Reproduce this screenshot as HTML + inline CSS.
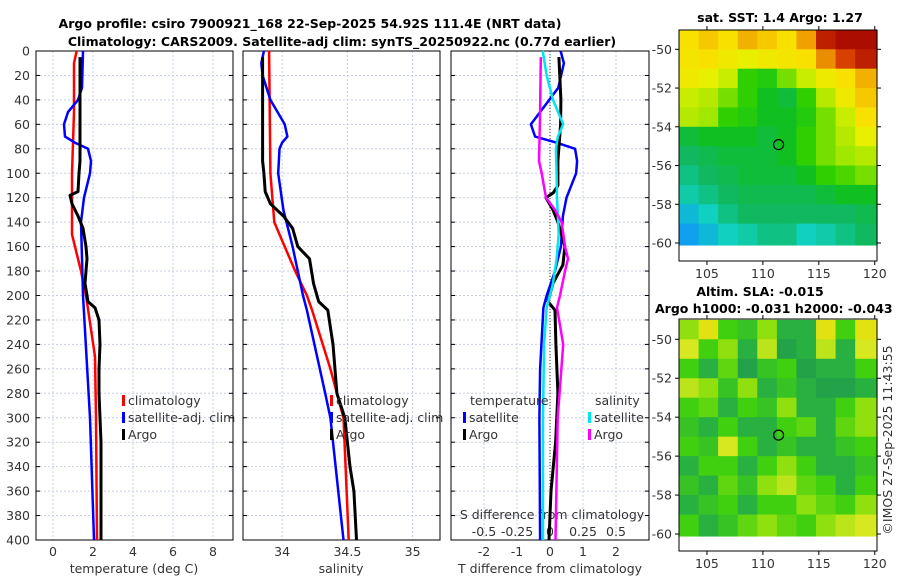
<!DOCTYPE html>
<html><head><meta charset="utf-8"><style>
html,body{margin:0;padding:0;background:#fff;width:900px;height:580px;overflow:hidden}
svg{display:block;font-family:"DejaVu Sans","Liberation Sans",sans-serif}
.tl{font-size:12.5px;fill:#333}
.tt{font-size:12.5px;font-weight:bold;fill:#000}
</style></head><body>
<svg id="fig" width="900" height="580" viewBox="0 0 900 580">
<text class="tt" x="310" y="28" text-anchor="middle">Argo profile: csiro 7900921_168 22-Sep-2025 54.92S 111.4E (NRT data)</text>
<text class="tt" x="342" y="46" text-anchor="middle">Climatology: CARS2009. Satellite-adj clim: synTS_20250922.nc (0.77d earlier)</text>
<text class="tt" x="780" y="22" text-anchor="middle">sat. SST: 1.4 Argo: 1.27</text>
<text class="tt" x="760" y="296" text-anchor="middle">Altim. SLA: -0.015</text>
<text class="tt" x="655" y="313">Argo h1000: -0.031 h2000: -0.043</text>
<text class="tl" transform="translate(892,440) rotate(-90)" text-anchor="middle">©IMOS 27-Sep-2025 11:43:55</text>
</svg>
<script>
// ---- profile data ----
const depthTicks=[0,20,40,60,80,100,120,140,160,180,200,220,240,260,280,300,320,340,360,380,400];
const tempTicks=[0,2,4,6,8];
const salTicks=[34,34.5,35];
const salTickLabels=["34","34.5","35"];
const dTTicks=[-2,-1,0,1,2];
const dSTicks=[-0.5,-0.25,0,0.25,0.5];
const dSTickLabels=["-0.5","-0.25","0","0.25","0.5"];

const climTDepth=[0,10,50,100,150,160,180,200,250,300,400];
const climTVal=[1.18,1.05,1.05,0.95,0.95,1.1,1.4,1.65,2.1,2.15,2.2];
const satTDepth=[0,30,40,50,60,70,75,80,90,100,120,140,200,300,400];
const satTVal=[1.5,1.45,1.25,0.75,0.55,0.6,1.1,1.75,1.9,1.85,1.55,1.4,1.5,1.85,2.05];
const argoTDepth=[5,90,100,115,118,125,135,145,160,170,180,190,200,205,210,220,240,260,280,300,320,360,400];
const argoTVal=[1.35,1.35,1.3,1.25,0.85,0.95,1.25,1.5,1.65,1.7,1.65,1.6,1.7,1.75,2.1,2.3,2.35,2.3,2.3,2.35,2.4,2.4,2.4];

const climSDepth=[0,100,140,160,180,200,212,260,300,400];
const climSVal=[33.9,33.91,33.94,34.02,34.1,34.19,34.23,34.37,34.47,34.51];
const satSDepth=[0,10,20,40,60,70,75,80,100,130,160,180,200,212,280,300,400];
const satSVal=[33.86,33.84,33.85,33.91,34.02,34.04,34.0,33.98,33.97,34.01,34.08,34.12,34.16,34.19,34.33,34.37,34.47];
const argoSDepth=[5,90,100,115,125,135,145,160,170,190,205,212,240,280,300,340,360,400];
const argoSVal=[33.85,33.85,33.86,33.87,33.91,34.01,34.08,34.12,34.21,34.24,34.28,34.35,34.39,34.42,34.48,34.52,34.55,34.57];

const satdTDepth=[0,10,30,50,60,70,75,80,90,100,120,135,160,180,200,210,260,300,400];
const satdTVal=[0.32,0.42,0.25,-0.3,-0.58,-0.45,0.2,0.76,0.82,0.79,0.5,0.39,0.33,0.15,-0.1,-0.2,-0.3,-0.32,-0.3];
const argodTDepth=[5,40,60,90,110,116,120,130,140,160,175,190,205,212,240,280,320,360,400];
const argodTVal=[0.27,0.33,0.32,0.24,0.24,0.1,-0.12,0.09,0.24,0.45,0.39,0.09,-0.06,0.15,0.18,0.24,0.17,0.03,-0.03];
const satdSDepth=[0,20,40,60,70,80,100,120,150,170,190,210,240,300,400];
const satdSVal=[-0.055,-0.025,0.023,0.1,0.06,0.045,0.05,0.053,0.066,0.05,0.023,-0.025,-0.045,-0.053,-0.053];
const argodSDepth=[5,50,90,100,120,130,140,160,170,180,200,210,240,300,400];
const argodSVal=[-0.07,-0.075,-0.083,-0.063,-0.03,0.038,0.088,0.114,0.136,0.114,0.076,0.053,0.1,0.058,0.042];

// ---- map data (colour index 0..1) ----
const sstLonEdges=[102.5,104.25,106,107.75,109.5,111.25,113,114.75,116.5,118.25,120.2];
const sstLatEdges=[-49,-50,-51,-52,-53,-54,-55,-56,-57,-58,-59,-60.1];
const sstRows=[
[0.72,0.75,0.72,0.78,0.75,0.72,0.8,0.95,0.98,0.98],
[0.7,0.72,0.68,0.65,0.68,0.7,0.72,0.82,0.9,0.95],
[0.68,0.65,0.62,0.5,0.48,0.55,0.62,0.68,0.72,0.78],
[0.62,0.6,0.55,0.5,0.45,0.42,0.5,0.6,0.68,0.75],
[0.6,0.58,0.5,0.48,0.45,0.45,0.48,0.55,0.62,0.72],
[0.42,0.45,0.45,0.45,0.42,0.45,0.5,0.55,0.6,0.65],
[0.38,0.4,0.42,0.42,0.42,0.45,0.5,0.55,0.58,0.6],
[0.35,0.38,0.4,0.42,0.42,0.42,0.45,0.5,0.52,0.55],
[0.32,0.35,0.38,0.4,0.4,0.4,0.4,0.42,0.45,0.45],
[0.25,0.3,0.35,0.38,0.38,0.38,0.38,0.38,0.38,0.4],
[0.2,0.25,0.3,0.32,0.35,0.35,0.3,0.32,0.35,0.38]];
const slaRows=[
[0.55,0.62,0.5,0.48,0.55,0.45,0.45,0.62,0.5,0.62],
[0.6,0.5,0.55,0.45,0.58,0.42,0.45,0.58,0.45,0.6],
[0.5,0.45,0.52,0.42,0.48,0.5,0.42,0.45,0.45,0.5],
[0.58,0.55,0.48,0.55,0.45,0.48,0.45,0.42,0.42,0.45],
[0.5,0.52,0.45,0.5,0.48,0.55,0.45,0.45,0.5,0.55],
[0.48,0.45,0.5,0.45,0.45,0.5,0.52,0.45,0.52,0.55],
[0.5,0.48,0.6,0.5,0.45,0.48,0.45,0.45,0.48,0.5],
[0.45,0.5,0.5,0.45,0.5,0.55,0.5,0.45,0.45,0.48],
[0.48,0.45,0.52,0.48,0.55,0.58,0.52,0.5,0.45,0.5],
[0.45,0.48,0.5,0.45,0.5,0.5,0.55,0.52,0.5,0.55],
[0.5,0.45,0.48,0.52,0.55,0.52,0.5,0.55,0.58,0.6]];
const mapLonTicks=[105,110,115,120];
const mapLatTicks=[-50,-52,-54,-56,-58,-60];
const argoLon=111.4, argoLat=-54.92;

const NS="http://www.w3.org/2000/svg";
const svg=document.getElementById('fig');
function el(tag,attrs,parent){const e=document.createElementNS(NS,tag);for(const k in attrs)e.setAttribute(k,attrs[k]);(parent||svg).appendChild(e);return e;}

const Y0=51,Y1=540;
const yD=d=>Y0+(d/400)*(Y1-Y0);
const panels=[
 {x0:36,x1:233,min:-0.85,max:9.0,name:'temperature-panel'},
 {x0:243,x1:440,min:33.70,max:35.21,name:'salinity-panel'},
 {x0:451,x1:649,min:-3,max:3,name:'difference-panel'}];
function xf(p){return v=>p.x0+(v-p.min)/(p.max-p.min)*(p.x1-p.x0);}
const xT=xf(panels[0]),xS=xf(panels[1]),xdT=xf(panels[2]);
const xdS=v=>xdT(v*4);

const gridX=[[0,2,4,6,8],[34,34.5,35],[-2,-1,0,1,2]];
panels.forEach((p,i)=>{
  const g=el('g',{});
  
  
  const xs=[xT,xS,xdT][i];
  depthTicks.forEach(d=>{const l=el('line',{x1:p.x0,x2:p.x1,y1:yD(d),y2:yD(d),stroke:'#c6cde6','stroke-width':1,'stroke-dasharray':'2,2'},g);});
  gridX[i].forEach(v=>{const x=xs(v);if(x>p.x0&&x<p.x1){const l=el('line',{x1:x,x2:x,y1:Y0,y2:Y1,stroke:'#c6cde6','stroke-width':1,'stroke-dasharray':'2,2'},g);}});
  depthTicks.forEach(d=>{el('line',{x1:p.x0,x2:p.x0+4,y1:yD(d),y2:yD(d),stroke:'#000'},g);el('line',{x1:p.x1,x2:p.x1-4,y1:yD(d),y2:yD(d),stroke:'#000'},g);});
  const r=el('rect',{x:p.x0,y:Y0,width:p.x1-p.x0,height:Y1-Y0,fill:'none',stroke:'#000','stroke-width':1},g);
  
});
depthTicks.forEach(d=>{const t=el('text',{x:30,y:yD(d)+4.5,'text-anchor':'end',class:'tl'});t.textContent=d;});
function xLabels(ticks,labels,fx,y,nm){ticks.forEach((v,i)=>{const t=el('text',{x:fx(v),y:y,'text-anchor':'middle',class:'tl'});t.textContent=labels?labels[i]:v;});}
xLabels(tempTicks,null,xT,556,'temperature-tick-label');
xLabels(salTicks,salTickLabels,xS,556,'salinity-tick-label');
xLabels(dTTicks,null,xdT,556,'t-diff-tick-label');
xLabels(dSTicks,dSTickLabels,xdS,536,'s-diff-tick-label');
function txt(x,y,s,nm,anchor){const t=el('text',{x:x,y:y,'text-anchor':anchor||'start',class:'tl'});t.textContent=s;return t;}
txt(134,573,'temperature (deg C)','temperature-axis-title','middle');
txt(341,573,'salinity','salinity-axis-title','middle');
txt(550,573,'T difference from climatology','t-diff-axis-title','middle');
txt(552,519,'S difference from climatology','s-diff-axis-title','middle');
const zl=el('line',{x1:xdT(0),x2:xdT(0),y1:Y0,y2:Y1,stroke:'#333','stroke-dasharray':'1,2'});


function series(dep,val,fx,color,w,nm){
  const pts=dep.map((d,i)=>fx(val[i]).toFixed(1)+','+yD(d).toFixed(1)).join(' ');
  const pl=el('polyline',{points:pts,fill:'none',stroke:color,'stroke-width':w,'stroke-linejoin':'round'});
  
  
}
series(climTDepth,climTVal,xT,'#ff0000',2.5,'climatology-temperature-line');
series(satTDepth,satTVal,xT,'#0000ff',2.5,'satellite-temperature-line');
series(argoTDepth,argoTVal,xT,'#000000',3,'argo-temperature-line');
series(climSDepth,climSVal,xS,'#ff0000',2.5,'climatology-salinity-line');
series(satSDepth,satSVal,xS,'#0000ff',2.5,'satellite-salinity-line');
series(argoSDepth,argoSVal,xS,'#000000',3,'argo-salinity-line');
series(satdTDepth,satdTVal,xdT,'#0000ff',2.5,'satellite-t-diff-line');
series(argodTDepth,argodTVal,xdT,'#000000',3,'argo-t-diff-line');
series(satdSDepth,satdSVal,xdS,'#00e5ee',2.5,'satellite-s-diff-line');
series(argodSDepth,argodSVal,xdS,'#ff00ff',2.5,'argo-s-diff-line');

function legendEntry(x,y,color,label){
  const g=el('g',{});
  
  
  el('rect',{x:x,y:y-10,width:3,height:11,fill:color},g);
  const t=el('text',{x:x+6,y:y,class:'tl'},g);t.textContent=label;
}
[[122,'#ff0000','climatology',405],[122,'#0000ff','satellite-adj. clim',422],[122,'#000','Argo',439],
 [330,'#ff0000','climatology',405],[330,'#0000ff','satellite-adj. clim',422],[330,'#000','Argo',439],
 [463,'#0000ff','satellite',422],[463,'#000','Argo',439],[588,'#00e5ee','satellite',422],[588,'#ff00ff','Argo',439]]
 .forEach(e=>legendEntry(e[0],e[3],e[1],e[2]));
txt(470,405,'temperature','legend-temperature-header');
txt(595,405,'salinity','legend-salinity-header');

// ---- maps ----
const cmapStops=[[0,'#0050ff'],[0.2,'#10a0f0'],[0.3,'#10d0c0'],[0.38,'#10b860'],[0.45,'#10c020'],[0.5,'#30d000'],[0.58,'#a0e800'],[0.65,'#e8f000'],[0.72,'#f8e000'],[0.8,'#f0a000'],[0.9,'#d84000'],[1,'#a00000']];
function hex2(c){return [1,3,5].map(i=>parseInt(c.substr(i,2),16));}
function cmap(v){for(let i=1;i<cmapStops.length;i++){if(v<=cmapStops[i][0]){const a=cmapStops[i-1],b=cmapStops[i];const t=(v-a[0])/(b[0]-a[0]);const ca=hex2(a[1]),cb=hex2(b[1]);return 'rgb('+ca.map((c,k)=>Math.round(c+(cb[k]-c)*t)).join(',')+')';}}return cmapStops[cmapStops.length-1][1];}
const slaStops=[[0.4,'#209850'],[0.45,'#28b040'],[0.5,'#40d010'],[0.55,'#90e010'],[0.6,'#d8e820'],[0.65,'#f0d800']];
function slamap(v){for(let i=1;i<slaStops.length;i++){if(v<=slaStops[i][0]){const a=slaStops[i-1],b=slaStops[i];const t=Math.max(0,(v-a[0])/(b[0]-a[0]));const ca=hex2(a[1]),cb=hex2(b[1]);return 'rgb('+ca.map((c,k)=>Math.round(c+(cb[k]-c)*t)).join(',')+')';}}return slaStops[slaStops.length-1][1];}

function drawMap(top,bottom,latAt50,latAt60,rows,cfun,nm){
  const X0=679,X1=877,LON0=102.5,LON1=120.2;
  const lx=v=>X0+(v-LON0)/(LON1-LON0)*(X1-X0);
  const ly=v=>latAt50+(v+50)/(-10)*(latAt60-latAt50);
  const g=el('g',{});
  
  
  rows.forEach((row,r)=>row.forEach((v,c)=>{
    const x=lx(sstLonEdges[c]),x2=lx(sstLonEdges[c+1]);
    const ya=Math.max(top,ly(sstLatEdges[r])),yb=ly(sstLatEdges[r+1]);
    const cell=el('rect',{x:x,y:ya,width:x2-x+0.6,height:yb-ya+0.6,fill:cfun(v)},g);
    
    
  }));
  const ring=el('circle',{cx:lx(argoLon),cy:ly(argoLat),r:5,fill:'none',stroke:'#000','stroke-width':1.2},g);
  
  
  el('rect',{x:X0,y:top,width:X1-X0,height:bottom-top,fill:'none',stroke:'#000'},g);
  mapLatTicks.forEach(v=>{const y=ly(v);el('line',{x1:X0-4,x2:X0,y1:y,y2:y,stroke:'#000'},g);el('line',{x1:X1,x2:X1+4,y1:y,y2:y,stroke:'#000'},g);
    const t=el('text',{x:X0-7,y:y+4.5,'text-anchor':'end',class:'tl'},g);t.textContent=v;});
  mapLonTicks.forEach(v=>{const x=lx(v);el('line',{x1:x,x2:x,y1:bottom,y2:bottom+4,stroke:'#000'},g);el('line',{x1:x,x2:x,y1:top,y2:top-4,stroke:'#000'},g);
    const t=el('text',{x:x,y:bottom+17,'text-anchor':'middle',class:'tl'},g);t.textContent=v;});
}
drawMap(30,261,49.3,243,sstRows,cmap,'sst-map');
drawMap(319,551,339.3,534,slaRows,slamap,'sla-map');
</script>
</body></html>
